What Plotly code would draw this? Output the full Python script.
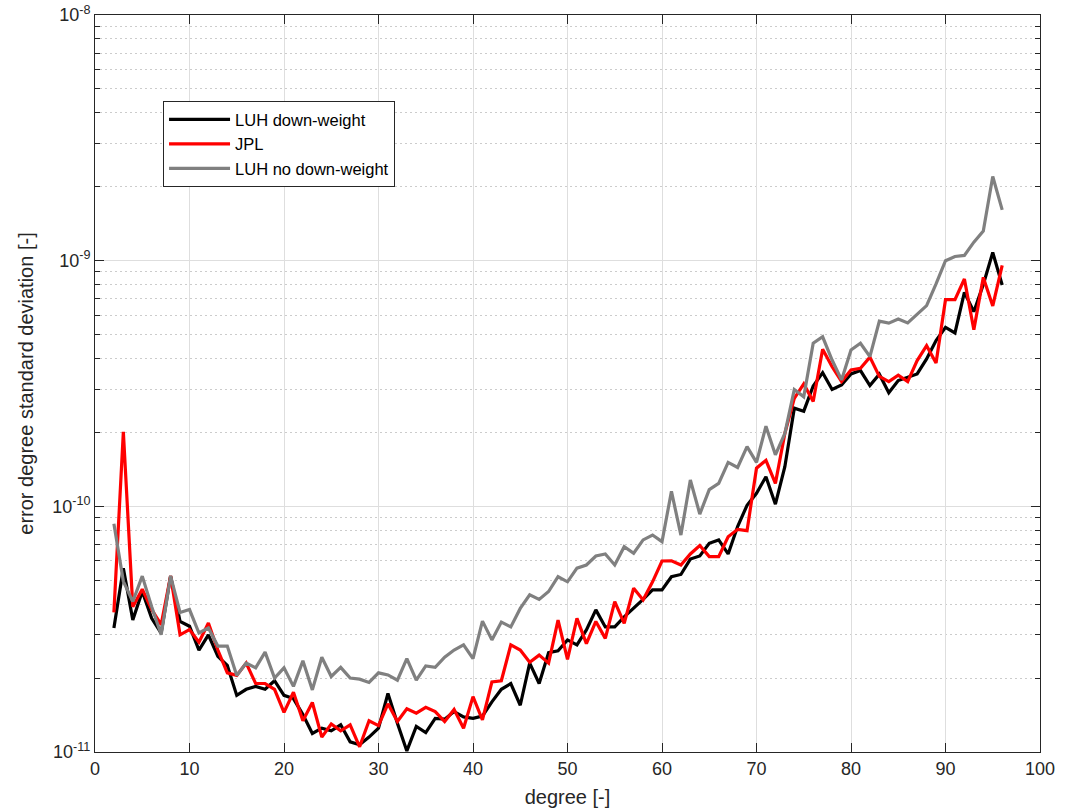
import plotly.graph_objects as go

degree = list(range(2, 97))

luh_down_weight = [
    3.2e-11, 5.6e-11, 3.45e-11, 4.5e-11, 3.5e-11, 3.05e-11, 5.2e-11, 3.4e-11, 3.25e-11, 2.6e-11,
    3.0e-11, 2.45e-11, 2.25e-11, 1.7e-11, 1.8e-11, 1.85e-11, 1.8e-11, 1.95e-11, 1.7e-11, 1.65e-11,
    1.42e-11, 1.19e-11, 1.25e-11, 1.22e-11, 1.29e-11, 1.1e-11, 1.07e-11, 1.15e-11, 1.25e-11, 1.73e-11,
    1.31e-11, 1.01e-11, 1.27e-11, 1.2e-11, 1.37e-11, 1.36e-11, 1.46e-11, 1.39e-11, 1.37e-11, 1.4e-11,
    1.6e-11, 1.8e-11, 1.9e-11, 1.55e-11, 2.3e-11, 1.9e-11, 2.54e-11, 2.58e-11, 2.86e-11, 2.73e-11,
    3.14e-11, 3.79e-11, 3.23e-11, 3.23e-11, 3.55e-11, 3.84e-11, 4.18e-11, 4.57e-11, 4.57e-11, 5.17e-11,
    5.28e-11, 6.1e-11, 6.28e-11, 7.07e-11, 7.3e-11, 6.4e-11, 8.27e-11, 1.01e-10, 1.13e-10, 1.32e-10,
    1.02e-10, 1.45e-10, 2.51e-10, 2.44e-10, 3.09e-10, 3.5e-10, 2.99e-10, 3.12e-10, 3.46e-10, 3.57e-10,
    3.1e-10, 3.45e-10, 2.9e-10, 3.25e-10, 3.35e-10, 3.46e-10, 3.98e-10, 4.73e-10, 5.35e-10, 5.08e-10,
    7.43e-10, 6.2e-10, 8.0e-10, 1.08e-9, 7.96e-10,
]

jpl = [
    3.7e-11, 2.01e-10, 3.9e-11, 4.6e-11, 3.8e-11, 3.3e-11, 5.2e-11, 3.0e-11, 3.15e-11, 2.8e-11,
    3.35e-11, 2.6e-11, 2.1e-11, 2.05e-11, 2.3e-11, 1.9e-11, 1.9e-11, 1.8e-11, 1.45e-11, 1.75e-11,
    1.34e-11, 1.59e-11, 1.15e-11, 1.3e-11, 1.22e-11, 1.29e-11, 1.05e-11, 1.34e-11, 1.28e-11, 1.57e-11,
    1.33e-11, 1.5e-11, 1.44e-11, 1.52e-11, 1.46e-11, 1.33e-11, 1.49e-11, 1.25e-11, 1.68e-11, 1.35e-11,
    1.93e-11, 1.95e-11, 2.73e-11, 2.6e-11, 2.32e-11, 2.48e-11, 2.3e-11, 3.44e-11, 2.38e-11, 3.5e-11,
    2.76e-11, 3.4e-11, 2.9e-11, 4.09e-11, 3.34e-11, 4.64e-11, 4.16e-11, 4.93e-11, 5.99e-11, 6.0e-11,
    5.77e-11, 6.4e-11, 6.93e-11, 6.24e-11, 6.24e-11, 7.52e-11, 8.06e-11, 7.96e-11, 1.43e-10, 1.54e-10,
    1.24e-10, 1.98e-10, 2.75e-10, 3.15e-10, 2.67e-10, 4.36e-10, 3.7e-10, 3.22e-10, 3.59e-10, 3.65e-10,
    4.05e-10, 3.38e-10, 3.22e-10, 3.42e-10, 3.22e-10, 3.92e-10, 4.51e-10, 3.83e-10, 6.94e-10, 6.94e-10,
    8.42e-10, 5.23e-10, 8.55e-10, 6.54e-10, 9.57e-10,
]

luh_no_down_weight = [
    8.5e-11, 4.95e-11, 4.1e-11, 5.2e-11, 3.9e-11, 3.0e-11, 5.2e-11, 3.7e-11, 3.8e-11, 3.05e-11,
    3.2e-11, 2.7e-11, 2.7e-11, 2.05e-11, 2.3e-11, 2.2e-11, 2.55e-11, 2.0e-11, 2.2e-11, 1.85e-11,
    2.35e-11, 1.79e-11, 2.43e-11, 2.03e-11, 2.21e-11, 2.0e-11, 1.98e-11, 1.92e-11, 2.1e-11, 2.06e-11,
    1.96e-11, 2.4e-11, 1.96e-11, 2.24e-11, 2.21e-11, 2.43e-11, 2.6e-11, 2.73e-11, 2.4e-11, 3.41e-11,
    2.86e-11, 3.38e-11, 3.23e-11, 3.84e-11, 4.36e-11, 4.18e-11, 4.5e-11, 5.17e-11, 4.93e-11, 5.6e-11,
    5.77e-11, 6.28e-11, 6.4e-11, 5.77e-11, 6.85e-11, 6.44e-11, 7.3e-11, 7.64e-11, 7.18e-11, 1.15e-10,
    7.64e-11, 1.28e-10, 9.3e-11, 1.17e-10, 1.24e-10, 1.51e-10, 1.44e-10, 1.75e-10, 1.51e-10, 2.12e-10,
    1.62e-10, 1.98e-10, 2.99e-10, 2.79e-10, 4.61e-10, 4.9e-10, 3.94e-10, 3.27e-10, 4.33e-10, 4.61e-10,
    4.07e-10, 5.67e-10, 5.57e-10, 5.79e-10, 5.58e-10, 6.07e-10, 6.56e-10, 8.04e-10, 1.0e-9, 1.04e-9,
    1.05e-9, 1.19e-9, 1.32e-9, 2.2e-9, 1.61e-9,
]

series_names = ["LUH down-weight", "JPL", "LUH no down-weight"]
series_colors = ["#000000", "#ff0000", "#808080"]

y_tick_vals = [1e-11, 1e-10, 1e-9, 1e-8]
y_tick_text = ["10<sup>-11</sup>", "10<sup>-10</sup>", "10<sup>-9</sup>", "10<sup>-8</sup>"]
x_tick_vals = [0, 10, 20, 30, 40, 50, 60, 70, 80, 90, 100]

AX = "#262626"
FONT = "Liberation Sans, Arial, Helvetica, sans-serif"

fig = go.Figure()
for name, vals, col in zip(series_names, [luh_down_weight, jpl, luh_no_down_weight], series_colors):
    fig.add_trace(go.Scatter(x=degree, y=vals, mode="lines", name=name,
                             line=dict(color=col, width=3.2)))

fig.update_layout(
    width=1068, height=812,
    margin=dict(l=95, r=28, t=15, b=60, autoexpand=False),
    paper_bgcolor="white", plot_bgcolor="white",
    font=dict(family=FONT, color=AX, size=18),
    showlegend=True,
    legend=dict(x=0.072, y=0.883, xanchor="left", yanchor="top",
                bgcolor="white", bordercolor=AX, borderwidth=1,
                font=dict(family=FONT, size=16.5, color="#000000"),
                itemwidth=61, tracegroupgap=0),
)

fig.update_xaxes(
    range=[0, 100], tickmode="array", tickvals=x_tick_vals, automargin=False,
    ticklabeloverflow="allow",
    showgrid=True, gridcolor="#dedede", gridwidth=1,
    zeroline=False, showline=True, linecolor=AX, linewidth=1, mirror="ticks",
    ticks="inside", ticklen=9, tickcolor=AX, tickwidth=1,
    tickfont=dict(family=FONT, size=18, color=AX),
    title=dict(text="degree [-]", font=dict(family=FONT, size=20, color=AX), standoff=12),
)

fig.update_yaxes(
    type="log", range=[-11, -8], tickmode="array", tickvals=y_tick_vals, ticktext=y_tick_text,
    automargin=False, ticklabeloverflow="allow",
    showgrid=True, gridcolor="#dedede", gridwidth=1,
    zeroline=False, showline=True, linecolor=AX, linewidth=1, mirror="ticks",
    ticks="inside", ticklen=9, tickcolor=AX, tickwidth=1,
    tickfont=dict(family=FONT, size=18, color=AX),
    minor=dict(dtick="D1", tickmode="linear", ticks="inside", ticklen=5, tickcolor=AX,
               showgrid=True, gridcolor="#cccccc", griddash="2px,3px", gridwidth=1),
    title=dict(text="error degree standard deviation [-]", font=dict(family=FONT, size=20, color=AX), standoff=13),
)

fig.write_html("out.html", config={"displayModeBar": False},
               post_script="document.body.style.margin='0px';")
